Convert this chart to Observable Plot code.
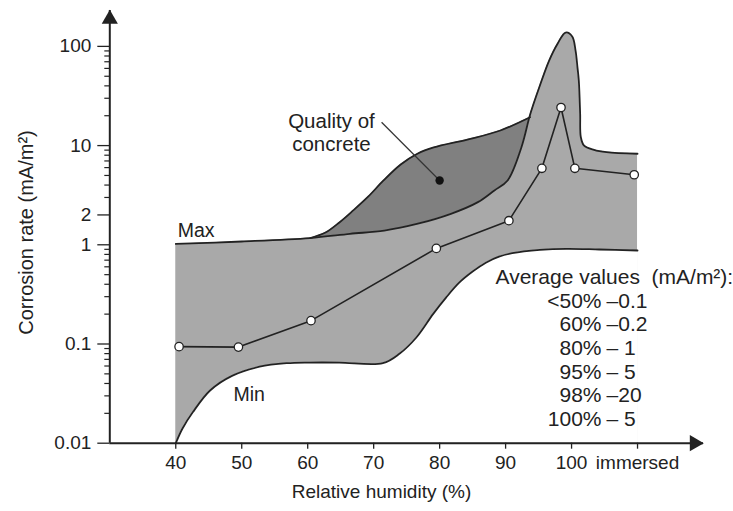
<!DOCTYPE html>
<html><head><meta charset="utf-8">
<script src="https://cdn.jsdelivr.net/npm/d3@7"></script>
<script src="https://cdn.jsdelivr.net/npm/@observablehq/plot@0.6"></script>
<style>
body{margin:0;background:#fff;}
#chart svg{display:block;}
</style>
</head><body><div id="chart"></div>
<script>
// Average measured values (open circles)
const avgHumidity = [40.5, 49.5, 60.5, 79.5, 90.5, 95.5, 98.4, 100.5, 109.5];
const avgRate     = [0.094, 0.093, 0.172, 0.92, 1.75, 5.9, 24.2, 5.9, 5.08];

// "Min" envelope
const minHumidity = [40, 41, 42.6, 45.2, 48.6, 52.7, 56.8, 60.3, 64.8, 71.4, 73.9, 76.5, 79.0, 81.0, 83.0, 85.0, 87.0, 89.0, 91.0, 95.2, 99.2, 104.2, 110];
const minRate     = [0.01, 0.014, 0.0206, 0.034, 0.048, 0.059, 0.064, 0.065, 0.065, 0.064, 0.0796, 0.117, 0.20, 0.295, 0.417, 0.537, 0.66, 0.759, 0.822, 0.887, 0.911, 0.897, 0.876];

// "Max" envelope (with the peak near 98-100 %)
const maxHumidity = [40, 50, 60.3, 66.4, 71.6, 76.7, 81.7, 85.8, 88.3, 90.3, 92.4, 93.6, 94.2, 95.2, 96.6, 97.9, 99.1, 100.1, 100.6, 100.9, 101.1, 101.3, 101.4, 101.9, 103.4, 105.3, 110];
const maxRate     = [1.02, 1.08, 1.17, 1.29, 1.39, 1.63, 2.05, 2.69, 3.53, 4.45, 9.64, 19.3, 25.9, 40.4, 72, 107, 138, 126, 91, 61, 45, 21, 12.2, 10.0, 9.07, 8.6, 8.27];

// Upper edge of the "Quality of concrete" region
const qualHumidity = [60.4, 62.7, 64.8, 66.9, 69.2, 71.5, 74.1, 76.7, 79.1, 84.2, 89.2, 93.7];
const qualRate     = [1.17, 1.33, 1.68, 2.22, 3.07, 4.45, 6.44, 8.32, 9.57, 11.5, 14.2, 19.3];

const qualityDot = [80, 4.45];
const leaderStart = [71.2, 17.2];

const xTicks = [40, 50, 60, 70, 80, 90, 100, 110];
const xTickLabels = ["40", "50", "60", "70", "80", "90", "100", "immersed"];
const yTicks = [0.01, 0.1, 1, 2, 10, 100];
const yTickLabels = ["0.01", "0.1", "1", "2", "10", "100"];
const yMinorTicks = [0.02,0.03,0.04,0.05,0.06,0.07,0.08,0.09, 0.2,0.3,0.4,0.5,0.6,0.7,0.8,0.9, 3,4,5,6,7,8,9, 20,30,40,50,60,70,80,90];

const avgPercent = ["<50%", "60%", "80%", "95%", "98%", "100%"];
const avgValue   = ["–0.1", "–0.2", "– 1", "– 5", "–20", "– 5"];

const toRows = (xs, ys) => xs.map((x, i) => ({x, y: ys[i]}));
const avg  = toRows(avgHumidity, avgRate);
const minC = toRows(minHumidity, minRate);
const maxC = toRows(maxHumidity, maxRate);
const qual = toRows(qualHumidity, qualRate);

const INK = "#222";
const LIGHT = "#a9a9a9";
const DARK = "#808080";
const curve = "catmull-rom";

const label = (t, x, y, opts) => Plot.text([t], {x: () => x, y: () => y, text: d => d, ...opts});

const chart = Plot.plot({
  width: 733, height: 511,
  marginLeft: 109.3, marginRight: 30, marginTop: 10, marginBottom: 68.3,
  x: {domain: [30, 120], label: null},
  y: {type: "log", domain: [0.01, 230], label: null},
  style: {fontFamily: "'Liberation Sans', Arial, Helvetica, sans-serif", background: "#fff", color: INK},
  marks: [
    // filled regions
    Plot.areaY(qual, {x: "x", y1: () => 0.01, y2: "y", fill: DARK, curve}),
    Plot.areaY(maxC, {x: "x", y1: () => 0.01, y2: "y", fill: LIGHT, curve}),
    Plot.areaY(minC, {x: "x", y1: () => 0.01, y2: "y", fill: "#fff", curve}),
    // outlines
    Plot.line(minC, {x: "x", y: "y", stroke: INK, strokeWidth: 1.8, curve}),
    Plot.line(maxC, {x: "x", y: "y", stroke: INK, strokeWidth: 1.8, curve}),
    Plot.line(qual, {x: "x", y: "y", stroke: INK, strokeWidth: 1.8, curve}),
    // average values
    Plot.line(avg, {x: "x", y: "y", stroke: INK, strokeWidth: 1.6}),
    Plot.dot(avg, {x: "x", y: "y", r: 4.2, fill: "#fff", stroke: INK, strokeWidth: 1.3}),
    // quality annotation
    Plot.link([0], {x1: () => leaderStart[0], y1: () => leaderStart[1], x2: () => qualityDot[0], y2: () => qualityDot[1], stroke: "#333", strokeWidth: 1.2}),
    Plot.dot([0], {x: () => qualityDot[0], y: () => qualityDot[1], r: 4.2, fill: "#111"}),
    label("Quality of\nconcrete", 63.6, 13.7, {fontSize: 20.5, lineHeight: 1.1, textAnchor: "middle"}),
    label("Max", 40.3, 1.40, {fontSize: 19.5, textAnchor: "start"}),
    label("Min", 48.75, 0.0306, {fontSize: 19.5, textAnchor: "start"}),
    label("Average values\u00a0 (mA/m²):", 88.47, 0.476, {fontSize: 21, textAnchor: "start"}),
    label(avgPercent.join("\n"), 104.54, 0.0701, {fontSize: 21, lineHeight: 1.124, textAnchor: "end"}),
    label(avgValue.join("\n"), 105.3, 0.0701, {fontSize: 21, lineHeight: 1.124, textAnchor: "start"}),
    // axes
    Plot.ruleY([0.01], {x1: 30, x2: 120, stroke: INK, strokeWidth: 2}),
    Plot.ruleX([30], {y1: 0.01, y2: 230, stroke: INK, strokeWidth: 2}),
    Plot.dot([0], {x: () => 30, y: () => 230, symbol: "triangle", r: 6, fill: INK, dy: 8.5}),
    Plot.dot([0], {x: () => 120, y: () => 0.01, symbol: "triangle", r: 6, fill: INK, rotate: 90, dx: -9}),
    Plot.axisX(xTicks, {label: null, tickSize: 6, tickPadding: 6, fontSize: 19, strokeWidth: 1.3, tickFormat: d => xTickLabels[xTicks.indexOf(d)]}),
    Plot.axisY(yTicks, {label: null, tickSize: 12, tickPadding: 6.5, fontSize: 19, strokeWidth: 1.3, tickFormat: d => yTickLabels[yTicks.indexOf(d)]}),
    Plot.axisY(yMinorTicks, {label: null, tickSize: 5, strokeWidth: 1.2, tickFormat: () => ""}),
    label("Relative humidity (%)", 71.19, 0.01, {fontSize: 19, dy: 49, textAnchor: "middle"}),
    label("Corrosion rate (mA/m²)", 30, 1.33, {fontSize: 20, dx: -83, rotate: -90, textAnchor: "middle"})
  ]
});
document.getElementById("chart").appendChild(chart);
</script>
</body></html>
